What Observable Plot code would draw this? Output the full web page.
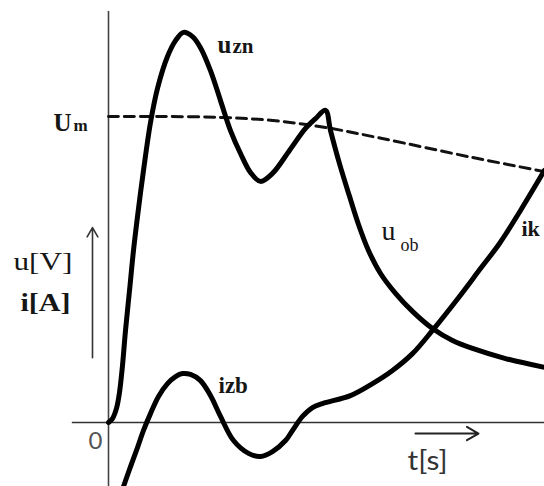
<!DOCTYPE html>
<html><head><meta charset="utf-8">
<script src="https://cdn.jsdelivr.net/npm/d3@7"></script>
<script src="https://cdn.jsdelivr.net/npm/@observablehq/plot@0.6"></script>
<style>body{margin:0;background:#fff}</style>
</head><body>
<script>
// Time axis (arbitrary units) and values (relative to Um = 1)
const umT = [0, 1.19, 2.57, 3.76, 4.98, 6.28, 8.35, 10];
const umV = [1.000, 1.000, 0.997, 0.987, 0.964, 0.928, 0.866, 0.820];

const uT = [0, 0.092, 0.183, 0.252, 0.321, 0.390, 0.482, 0.573, 0.688, 0.803, 0.963, 1.124, 1.353, 1.537, 1.720, 1.927, 2.110, 2.339, 2.569, 2.798, 3.028, 3.257, 3.486, 3.761, 4.151, 4.518, 4.748, 4.977, 5.092, 5.298, 5.528, 5.734, 5.963, 6.239, 6.583, 6.972, 7.431, 7.890, 8.349, 9.106, 10];
const uV = [0, 0.013, 0.046, 0.098, 0.186, 0.301, 0.431, 0.562, 0.699, 0.824, 0.980, 1.092, 1.196, 1.248, 1.275, 1.261, 1.225, 1.150, 1.052, 0.954, 0.879, 0.817, 0.788, 0.814, 0.889, 0.961, 0.993, 1.020, 0.954, 0.846, 0.739, 0.647, 0.562, 0.487, 0.422, 0.363, 0.307, 0.268, 0.242, 0.209, 0.180];

const iT = [0.344, 0.505, 0.665, 0.803, 0.963, 1.147, 1.353, 1.537, 1.697, 1.881, 2.110, 2.339, 2.569, 2.867, 3.211, 3.486, 3.761, 4.060, 4.220, 4.450, 4.679, 4.908, 5.550, 6.055, 6.514, 6.972, 7.431, 8.050, 8.532, 8.968, 9.450, 10];
const iV = [-0.209, -0.144, -0.082, -0.026, 0.029, 0.085, 0.127, 0.150, 0.160, 0.157, 0.137, 0.088, 0.020, -0.059, -0.101, -0.111, -0.095, -0.059, -0.026, 0.020, 0.049, 0.062, 0.088, 0.127, 0.170, 0.225, 0.301, 0.412, 0.503, 0.585, 0.693, 0.824];

const labelUm = ["U", "m"];
const labelUzn = ["u", "zn"];
const labelUob = ["u", "ob"];
const labelAxisY = ["u[V]", "i[A]"];
const labelIzb = "izb";
const labelIk = "ik";
const labelZero = "0";
const labelAxisX = "t[s]";

const um = umT.map((t, k) => ({t, v: umV[k]}));
const u = uT.map((t, k) => ({t, v: uV[k]}));
const cur = iT.map((t, k) => ({t, v: iV[k]}));

const serif = "'Liberation Serif', 'Times New Roman', serif";
const sans = "Lato, 'Open Sans', sans-serif";
const ink = "#161616";

function lbl(txt, x, y, size, opts = {}) {
  return Plot.text([txt], {x, y, text: d => d, textAnchor: "start", lineAnchor: "bottom",
    fontSize: size, fontFamily: serif, fill: ink, ...opts});
}

const chart = Plot.plot({
  width: 544, height: 486, margin: 0,
  style: {background: "#fff", overflow: "hidden"},
  x: {domain: [-108 / 43.6, 10], axis: null},
  y: {domain: [(422 - 486) / 306, 422 / 306], axis: null},
  marks: [
    Plot.ruleY([0], {x1: -0.83, x2: 10, stroke: "#333", strokeWidth: 1.6}),
    Plot.ruleX([0], {y1: -0.3, y2: 1.343, stroke: "#444", strokeWidth: 1.6}),
    Plot.line(um, {x: "t", y: "v", curve: "catmull-rom", stroke: "#111", strokeWidth: 3, strokeDasharray: "10,6"}),
    Plot.line(u, {x: "t", y: "v", curve: "catmull-rom", stroke: "#000", strokeWidth: 5, strokeLinejoin: "round"}),
    Plot.line(cur, {x: "t", y: "v", curve: "catmull-rom", stroke: "#000", strokeWidth: 5, strokeLinejoin: "round"}),
    Plot.arrow([0], {x1: -0.367, y1: 0.212, x2: -0.367, y2: 0.637, stroke: "#333", strokeWidth: 1.6, headLength: 10}),
    Plot.arrow([0], {x1: 7.041, y1: -0.036, x2: 8.486, y2: -0.036, stroke: "#222", strokeWidth: 2, headLength: 10}),
    lbl(labelUm[0], -1.261, 0.954, 25, {fontWeight: "bold"}),
    lbl(labelUm[1], -0.803, 0.954, 17, {fontWeight: "bold"}),
    lbl(labelUzn[0], 2.50, 1.209, 25, {fontWeight: "bold"}),
    lbl(labelUzn[1], 2.844, 1.209, 21, {fontWeight: "bold"}),
    lbl(labelAxisY[0], -2.179, 0.500, 26),
    lbl(labelAxisY[1], -2.018, 0.366, 25, {fontWeight: "bold"}),
    lbl(labelUob[0], 6.261, 0.595, 28),
    lbl(labelUob[1], 6.697, 0.562, 18),
    lbl(labelIk, 9.47, 0.611, 22, {fontWeight: "bold"}),
    lbl(labelIzb, 2.523, 0.098, 23, {fontWeight: "bold"}),
    lbl(labelZero, -0.459, -0.085, 24, {fontFamily: sans, fill: "#555"}),
    lbl(labelAxisX, 6.858, -0.154, 27, {fontFamily: sans, fill: "#333"})
  ]
});
// Stretch the wide axis labels horizontally, as in the reference
const widths = {"u[V]": 59, "i[A]": 50, "t[s]": 40};
d3.select(chart).selectAll("text").each(function () {
  const w = widths[this.textContent];
  if (w) { this.setAttribute("textLength", w); this.setAttribute("lengthAdjust", "spacingAndGlyphs"); }
});
document.body.appendChild(chart);
</script>
</body></html>
